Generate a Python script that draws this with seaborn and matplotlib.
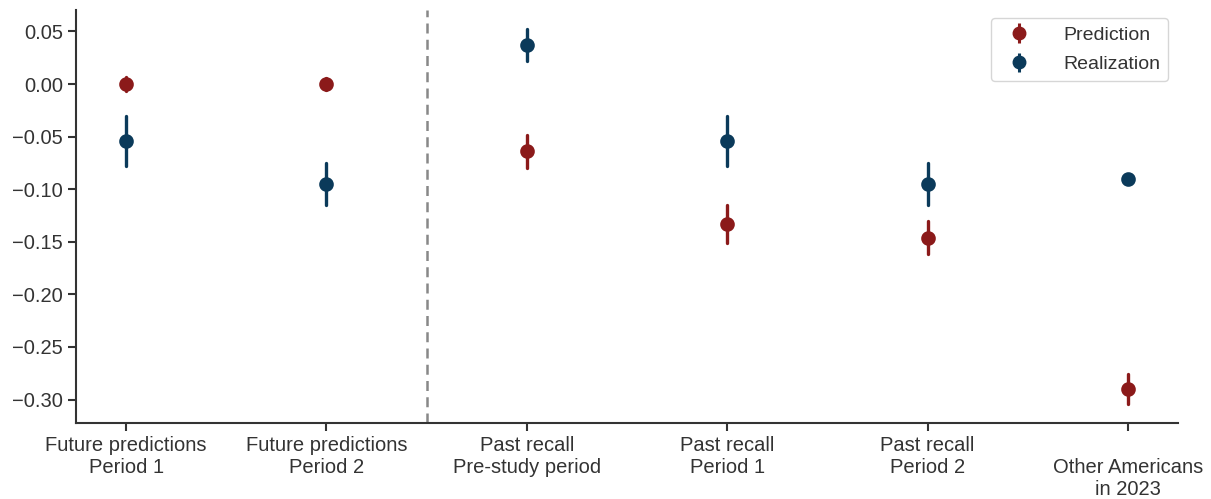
import numpy as np
import pandas as pd
import matplotlib
matplotlib.use("Agg")
import matplotlib.pyplot as plt
import seaborn as sns

categories = ["Future predictions\nPeriod 1", "Future predictions\nPeriod 2",
              "Past recall\nPre-study period", "Past recall\nPeriod 1",
              "Past recall\nPeriod 2", "\nOther Americans\nin 2023"]
pred_mean = [0.000, 0.000, -0.064, -0.133, -0.146, -0.290]
pred_err = [0.007, 0.006, 0.016, 0.018, 0.016, 0.014]
real_mean = [-0.054, -0.095, 0.037, -0.054, -0.095, -0.090]
real_err = [0.024, 0.020, 0.015, 0.024, 0.020, 0.0]
series = ["Prediction", "Realization"]
colors = {"Prediction": "#8b1a1a", "Realization": "#0b3a5a"}

rows = []
for name, means, errs in [("Prediction", pred_mean, pred_err), ("Realization", real_mean, real_err)]:
    for c, m, e in zip(categories, means, errs):
        for v in (m - e, m, m + e):
            rows.append({"cat": c, "val": v, "series": name})
df = pd.DataFrame(rows)

sns.set_theme(style="ticks")
plt.rcParams["font.family"] = ["Liberation Sans", "DejaVu Sans"]
plt.rcParams["axes.edgecolor"] = "#333333"
plt.rcParams["xtick.color"] = "#333333"
plt.rcParams["ytick.color"] = "#333333"
plt.rcParams["text.color"] = "#333333"

fig = plt.figure(figsize=(12.11, 4.99), dpi=100)
ax = fig.add_axes([0.0628, 0.1523, 0.9099, 0.8277])

sns.pointplot(data=df, x="cat", y="val", hue="series", order=categories,
              hue_order=series, palette=colors, estimator="mean",
              errorbar=("pi", 100), linestyle="none", dodge=False,
              markers="o", markersize=8.5, err_kws={"linewidth": 2.4},
              ax=ax, legend=False)

ax.axvline(1.5, color="#888888", linestyle="--", linewidth=1.8, dashes=(4, 2.5))

handles = []
for s in series:
    h = ax.errorbar([np.nan], [np.nan], yerr=[np.nan], fmt="o", color=colors[s],
                    markersize=9, elinewidth=2.2, label=s)
    handles.append(h)
leg = ax.legend(handles=handles, labels=series, loc="upper right", fontsize=14,
                frameon=True, handletextpad=1.3, borderpad=0.4, labelspacing=0.6,
                bbox_to_anchor=(1.0, 1.003))
leg.get_frame().set_edgecolor("#cccccc")

ax.set_xlim(-0.25, 5.25)
ax.set_ylim(-0.3223, 0.0704)
ax.set_yticks([0.05, 0.0, -0.05, -0.10, -0.15, -0.20, -0.25, -0.30])
ax.set_yticklabels(["0.05", "0.00", "\u22120.05", "\u22120.10", "\u22120.15",
                    "\u22120.20", "\u22120.25", "\u22120.30"])
ax.set_xlabel("")
ax.set_ylabel("")
ax.tick_params(axis="both", labelsize=14.5, length=6, width=1.5)
for sp in ["left", "bottom"]:
    ax.spines[sp].set_linewidth(1.5)
sns.despine(ax=ax)

fig.savefig("out.png", dpi=100)
